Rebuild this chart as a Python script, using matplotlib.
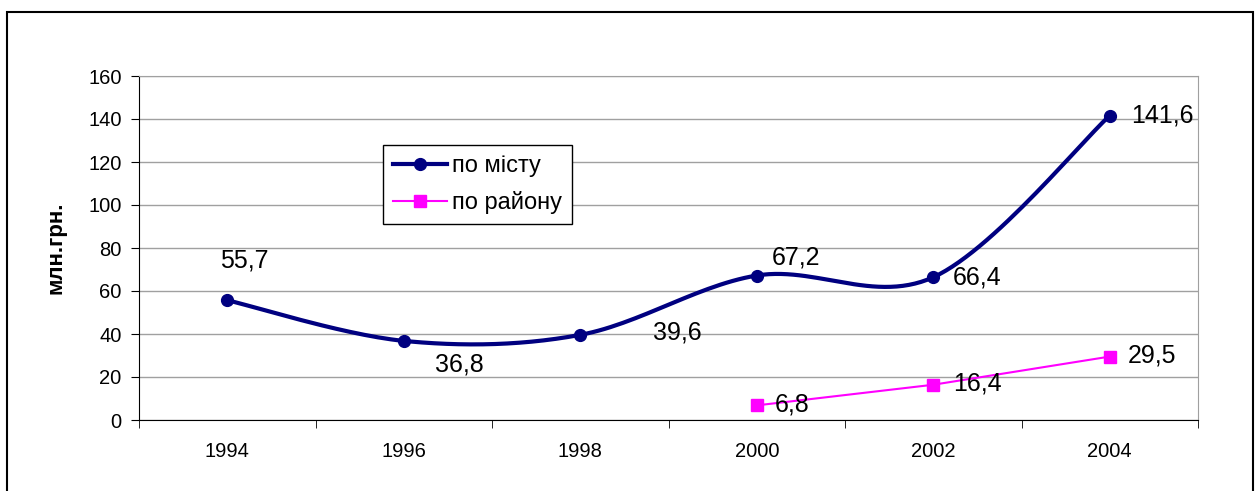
#!/usr/bin/env python3

import numpy
import matplotlib.pyplot as plt
from matplotlib.patches import Rectangle

years = ['1994', '1996', '1998', '2000', '2002', '2004']
city_vals = [55.7, 36.8, 39.6, 67.2, 66.4, 141.6]
district_years = ['2000', '2002', '2004']
district_vals = [6.8, 16.4, 29.5]


def smooth(xs, ys, n=30):
    # Bezier curve through the points, like a spreadsheet "smoothed line"
    xs = numpy.asarray(xs, dtype=float)
    ys = numpy.asarray(ys, dtype=float)
    px = numpy.concatenate([[xs[0]], xs, [xs[-1]]])
    py = numpy.concatenate([[ys[0]], ys, [ys[-1]]])
    out_x, out_y = [], []
    for i in range(1, len(px) - 2):
        t = numpy.linspace(0, 1, n)
        for p, out in ((px, out_x), (py, out_y)):
            p0, p1, p2, p3 = p[i - 1], p[i], p[i + 1], p[i + 2]
            c1 = p1 + (p2 - p0) / 6.0
            c2 = p2 - (p3 - p1) / 6.0
            seg = ((1 - t) ** 3 * p1 + 3 * (1 - t) ** 2 * t * c1
                   + 3 * (1 - t) * t ** 2 * c2 + t ** 3 * p2)
            out.extend(seg.tolist())
    return numpy.array(out_x), numpy.array(out_y)


plt.rcParams['font.family'] = ['Liberation Sans', 'DejaVu Sans']
fig = plt.figure(figsize=(12.6, 4.91), dpi=100)

# outer chart frame
fig.patches.append(Rectangle((7 / 1260, -0.02), 1246 / 1260, 1 - 12 / 491 + 0.02,
                             transform=fig.transFigure, fill=False,
                             edgecolor='black', lw=1.5))

ax = fig.add_axes([139 / 1260, 1 - 420 / 491, (1198 - 139) / 1260, (420 - 76) / 491])

x_city = numpy.arange(len(years))
x_dist = numpy.array([years.index(y) for y in district_years])

navy = '#000080'
sx, sy = smooth(x_city, city_vals)
ax.plot(sx, sy, color=navy, lw=3, zorder=3, solid_capstyle='round')
ax.plot(x_city, city_vals, 'o', color=navy, ms=8.5, zorder=4)
city_line, = ax.plot([], [], color=navy, lw=3, marker='o', ms=8.5)

dist_line, = ax.plot(x_dist, district_vals, color='#ff00ff', lw=1.5,
                     marker='s', ms=8, zorder=4)

# value labels: (x shift in categories, y shift in units)
label_offsets = [(-0.04, 18.7), (0.176, -11.2), (0.41, 1.3),
                 (0.085, 8.6), (0.108, 0.1), (0.12, 0)]
for xi, v, (dx, dy) in zip(x_city, city_vals, label_offsets):
    ax.text(xi + dx, v + dy, f'{v}'.replace('.', ','), fontsize=18,
            ha='left', va='center', zorder=5)
dist_offsets = [(0.10, 0.2), (0.113, 0.8), (0.10, 0.7)]
for xi, v, (dx, dy) in zip(x_dist, district_vals, dist_offsets):
    ax.text(xi + dx, v + dy, f'{v}'.replace('.', ','), fontsize=18,
            ha='left', va='center', zorder=5)

ax.set_xlim(-0.5, len(years) - 0.5)
ax.set_ylim(0, 160)
ax.set_yticks(range(0, 161, 20))
ax.set_xticks(x_city)
ax.set_xticklabels(years)
ax.set_xticks(numpy.arange(-0.5, len(years), 1), minor=True)
ax.tick_params(axis='x', which='major', length=0, pad=16, labelsize=14.5)
ax.tick_params(axis='x', which='minor', length=6, direction='out', color='black')
ax.tick_params(axis='y', length=6, direction='out', labelsize=14.5, pad=6.5)
ax.grid(axis='y', color='#a0a0a0', lw=1)
ax.set_axisbelow(True)

for side in ('top', 'right'):
    ax.spines[side].set_color('#a0a0a0')
ax.spines['left'].set_color('black')
ax.spines['bottom'].set_color('black')

ax.set_ylabel('млн.грн.', fontsize=16, fontweight='bold')
ax.yaxis.set_label_coords(-(139 - 66) / 1059, 0.5)

leg = ax.legend([city_line, dist_line], ['по місту', 'по району'],
                loc='upper left', bbox_to_anchor=((383 - 139) / 1059, (420 - 145) / 344),
                fontsize=17, frameon=True, fancybox=False, framealpha=1,
                handlelength=2.3, handletextpad=0.2, borderpad=0.42,
                borderaxespad=0, labelspacing=0.6)
leg.get_frame().set_edgecolor('black')
leg.get_frame().set_linewidth(1)

fig.savefig('out.png', dpi=100)
